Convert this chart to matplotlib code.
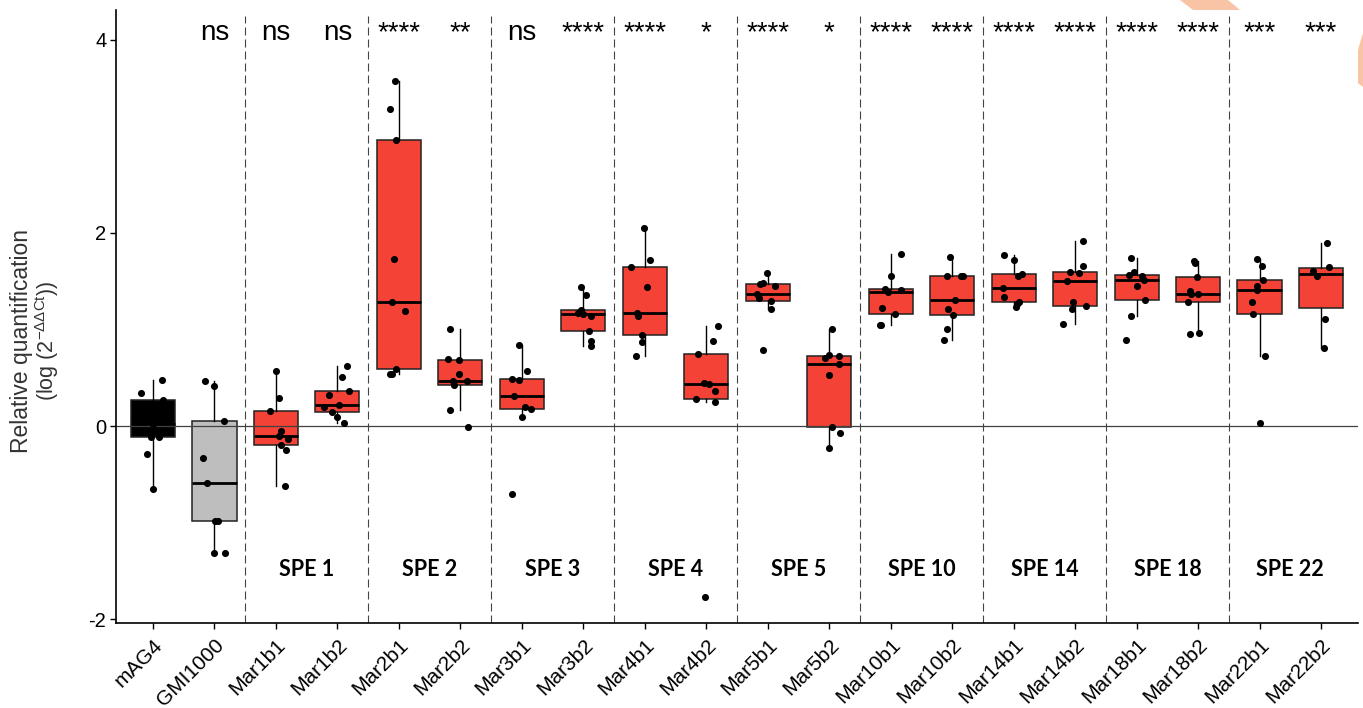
import numpy as np
import matplotlib.pyplot as plt
from matplotlib.patches import Polygon

plt.rcParams['font.family'] = ['Liberation Sans', 'DejaVu Sans']
plt.rcParams['mathtext.fontset'] = 'custom'
plt.rcParams['mathtext.rm'] = 'Liberation Sans'
plt.rcParams['mathtext.it'] = 'Liberation Sans:italic'
plt.rcParams['axes.unicode_minus'] = False

# strains on the x axis
strains = ['mAG4', 'GMI1000', 'Mar1b1', 'Mar1b2', 'Mar2b1', 'Mar2b2',
           'Mar3b1', 'Mar3b2', 'Mar4b1', 'Mar4b2', 'Mar5b1', 'Mar5b2',
           'Mar10b1', 'Mar10b2', 'Mar14b1', 'Mar14b2', 'Mar18b1', 'Mar18b2',
           'Mar22b1', 'Mar22b2']

# relative quantification, log(2^-ddCt), one list per strain
vals = [
    [0.345, 0.477, 0.27, -0.117, -0.117, -0.287, -0.656, 0.02, 0.12],
    [0.463, 0.418, 0.048, -0.335, -0.587, -0.98, -0.98, -1.31, -1.31],
    [0.573, 0.287, 0.155, -0.048, -0.104, -0.138, -0.193, -0.252, -0.618],
    [0.622, 0.511, 0.366, 0.321, 0.194, 0.222, 0.142, 0.097, 0.028],
    [3.578, 3.28, 2.96, 1.73, 1.288, 1.19, 0.594, 0.536, 0.536],
    [1.002, 0.691, 0.681, 0.539, 0.47, 0.466, 0.422, 0.169, -0.013],
    [0.836, 0.57, 0.487, 0.473, 0.311, 0.2, 0.176, 0.093, -0.705],
    [1.444, 1.361, 1.205, 1.174, 1.164, 1.14, 0.988, 0.878, 0.829],
    [2.055, 1.717, 1.648, 1.444, 1.174, 1.143, 0.943, 0.87, 0.729],
    [1.04, 0.881, 0.75, 0.446, 0.432, 0.366, 0.283, 0.252, -1.769],
    [1.589, 1.468, 1.478, 1.454, 1.368, 1.33, 1.299, 1.216, 0.788],
    [1.002, 0.70, 0.739, 0.725, 0.64, 0.525, -0.014, -0.073, -0.231],
    [1.782, 1.554, 1.423, 1.392, 1.412, 1.219, 1.157, 1.05, 1.05],
    [1.755, 1.551, 1.551, 1.551, 1.306, 1.216, 1.153, 1.002, 0.891],
    [1.769, 1.72, 1.554, 1.575, 1.433, 1.337, 1.288, 1.264, 1.23],
    [1.92, 1.661, 1.599, 1.582, 1.503, 1.282, 1.216, 1.24, 1.06],
    [1.741, 1.599, 1.565, 1.554, 1.513, 1.454, 1.302, 1.143, 0.891],
    [1.707, 1.686, 1.547, 1.399, 1.365, 1.371, 1.288, 0.953, 0.967],
    [1.731, 1.658, 1.513, 1.454, 1.406, 1.282, 1.157, 0.729, 0.035],
    [1.9, 1.648, 1.606, 1.554, 1.109, 0.811],
]

# horizontal jitter of each point
jit = [
    [-0.19, 0.15, 0.16, -0.03, 0.10, -0.09, 0.0, 0.0, -0.05],
    [-0.155, -0.01, 0.16, -0.19, -0.12, 0.01, 0.06, -0.01, 0.18],
    [0.01, 0.05, -0.09, 0.08, 0.05, 0.19, 0.08, 0.17, 0.15],
    [0.15, 0.07, 0.19, -0.14, -0.21, 0.02, -0.09, -0.01, 0.11],
    [-0.06, -0.15, -0.04, -0.08, -0.11, 0.10, -0.04, -0.15, -0.11],
    [-0.17, -0.20, -0.02, -0.02, -0.12, 0.11, -0.10, -0.17, 0.13],
    [-0.04, 0.09, -0.16, -0.04, -0.12, 0.05, 0.15, 0.01, -0.16],
    [-0.04, 0.05, -0.04, -0.09, 0.0, 0.12, 0.10, 0.12, 0.12],
    [-0.02, 0.08, -0.22, 0.04, -0.13, -0.11, -0.05, -0.05, -0.15],
    [0.19, 0.11, -0.14, -0.03, 0.05, 0.15, -0.17, 0.15, -0.02],
    [-0.01, -0.12, -0.07, 0.11, -0.17, -0.15, 0.05, 0.05, -0.07],
    [0.04, -0.07, -0.01, 0.16, 0.16, -0.01, 0.04, 0.18, 0.0],
    [0.17, 0.01, -0.09, -0.04, 0.17, -0.14, 0.07, -0.17, -0.15],
    [-0.04, -0.09, 0.15, 0.18, 0.05, -0.07, 0.02, -0.09, -0.13],
    [-0.15, 0.0, 0.07, 0.14, -0.17, -0.15, 0.08, 0.06, 0.04],
    [0.13, 0.12, -0.08, 0.06, -0.14, -0.04, -0.05, 0.17, -0.19],
    [-0.10, -0.04, -0.12, 0.09, 0.12, 0.0, 0.13, -0.10, -0.18],
    [-0.07, -0.05, -0.02, -0.13, -0.12, -0.01, -0.17, -0.13, 0.02],
    [-0.05, 0.04, 0.06, -0.05, -0.04, -0.12, -0.10, 0.08, 0.0],
    [0.09, 0.13, -0.13, -0.06, 0.06, 0.04],
]

signif = ['', 'ns', 'ns', 'ns', '****', '**', 'ns', '****', '****', '*',
          '****', '*', '****', '****', '****', '****', '****', '****',
          '***', '***']

groups = ['SPE 1', 'SPE 2', 'SPE 3', 'SPE 4', 'SPE 5', 'SPE 10',
          'SPE 14', 'SPE 18', 'SPE 22']

fills = ['black', '#bebebe'] + ['#f44336'] * 18

fig = plt.figure(figsize=(13.63, 7.08), dpi=100)
ax = fig.add_axes([116/1363, 1 - 623/708, 1242/1363, 613/708])

pos = np.arange(1, len(strains) + 1)
bp = ax.boxplot(vals, positions=pos, widths=0.72, patch_artist=True,
                showfliers=False, showcaps=False, whis=1.5,
                boxprops=dict(edgecolor='#222222', linewidth=1.1),
                medianprops=dict(color='black', linewidth=2.0),
                whiskerprops=dict(color='black', linewidth=1.0))
for patch, c in zip(bp['boxes'], fills):
    patch.set_facecolor(c)

# zero line and strain group separators
ax.axhline(0, color='#404040', lw=0.9, zorder=2.5)
for xv in np.arange(2.5, 19, 2):
    ax.axvline(xv, ymin=0, ymax=0.99, color='#444444', lw=0.8,
               dashes=(7.2, 3.6), zorder=1)

for p, v, j in zip(pos, vals, jit):
    ax.scatter(p + np.array(j), v, s=26, color='black', zorder=4,
               linewidths=0)

for p, s in zip(pos, signif):
    if s:
        ax.text(p, 4.0, s, ha='center', va='baseline', fontsize=20,
                color='black')

for k, g in enumerate(groups):
    ax.text(3.5 + 2 * k, -1.49, g, ha='center', va='center', fontsize=15.5,
            fontweight='bold', family=['Lato', 'DejaVu Sans'])

ax.set_xlim(0.4, 20.6)
ax.set_ylim(-2.04, 4.31)
ax.set_yticks([-2, 0, 2, 4])
ax.set_xticks(pos)
ax.set_xticklabels(strains, rotation=45, ha='right', va='top',
                   rotation_mode='anchor', fontsize=15)
ax.tick_params(axis='y', labelsize=14.5, length=4, width=1, pad=3)
ax.tick_params(axis='x', length=4, width=1, pad=5)
for side in ['top', 'right']:
    ax.spines[side].set_visible(False)
for side in ['left', 'bottom']:
    ax.spines[side].set_linewidth(1.2)

fig.text(22/1363, 1 - 341/708, 'Relative quantification', rotation=90,
         ha='center', va='center', fontsize=16.5, color='#333333')
fig.text(47/1363, 1 - 341/708, r'(log (2$^{\mathregular{-ΔΔCt}}$))',
         rotation=90, ha='center', va='center', fontsize=15.5,
         color='#333333')

# orange slide decoration in the corner
deco = [[(1180, 0), (1228, 0), (1240, 10), (1193, 10)],
        [(1363, 33), (1358, 50), (1358, 83), (1363, 87)]]
for shape in deco:
    fig.patches.append(Polygon([(x/1363, 1 - y/708) for x, y in shape],
                               closed=True, transform=fig.transFigure,
                               facecolor='#f9c3a6', edgecolor='none'))

fig.savefig('out.png', dpi=100)
